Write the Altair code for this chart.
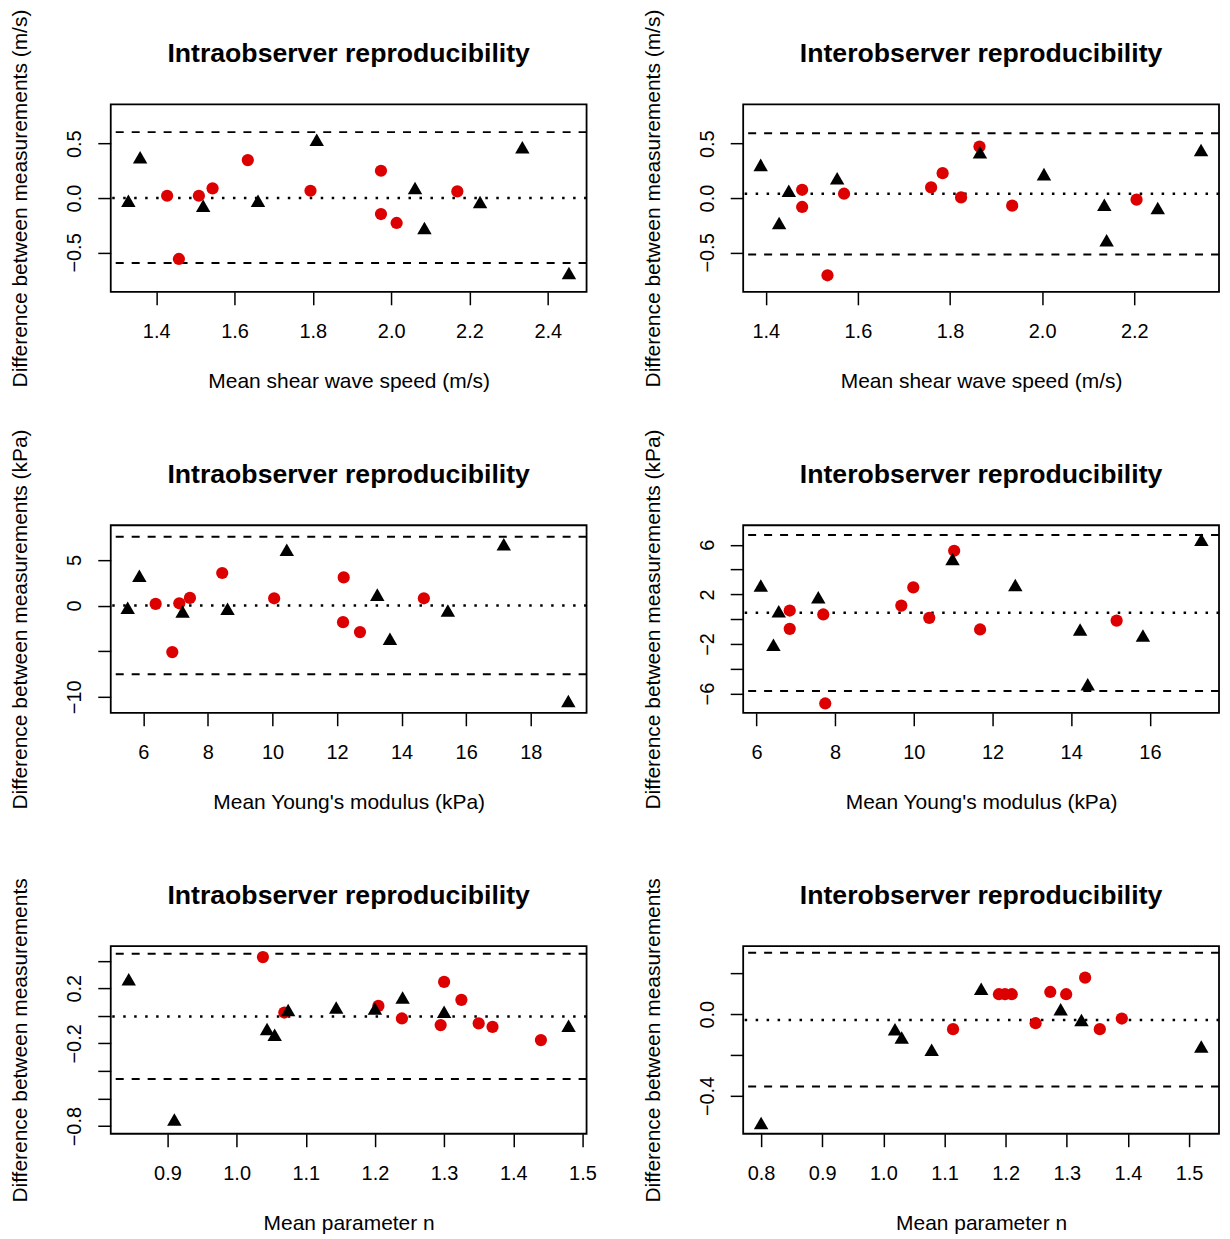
import altair as alt
import pandas as pd

FONT = "Liberation Sans"
RED = "#DD0000"

# ---------- Panel A: Intraobserver, shear wave speed ----------
a_tri_x = [1.329, 1.359, 1.520, 1.660, 1.810, 2.061, 2.085, 2.227, 2.335, 2.454]
a_tri_y = [-0.024, 0.376, -0.070, -0.024, 0.535, 0.092, -0.275, -0.037, 0.468, -0.688]
a_red_x = [1.428, 1.458, 1.509, 1.544, 1.634, 1.794, 1.974, 1.974, 2.014, 2.169]
a_red_y = [0.021, -0.560, 0.021, 0.089, 0.349, 0.067, 0.251, -0.147, -0.229, 0.061]
a_limits = [0.606, 0.0, -0.596]
a_xticks = [1.4, 1.6, 1.8, 2.0, 2.2, 2.4]
a_yticks = [-0.5, 0.0, 0.5]
a_ylabels = [-0.5, 0.0, 0.5]

# ---------- Panel B: Interobserver, shear wave speed ----------
b_tri_x = [1.389, 1.429, 1.450, 1.555, 1.865, 2.004, 2.135, 2.140, 2.251, 2.345]
b_tri_y = [0.305, -0.229, 0.067, 0.183, 0.421, 0.220, -0.061, -0.387, -0.091, 0.442]
b_red_x = [1.479, 1.479, 1.534, 1.570, 1.759, 1.784, 1.824, 1.864, 1.935, 2.205]
b_red_y = [0.076, -0.082, -0.710, 0.040, 0.098, 0.229, 0.006, 0.473, -0.070, -0.015]
b_limits = [0.595, 0.040, -0.518]
b_xticks = [1.4, 1.6, 1.8, 2.0, 2.2]
b_yticks = [-0.5, 0.0, 0.5]
b_ylabels = [-0.5, 0.0, 0.5]

# ---------- Panel C: Intraobserver, Young's modulus ----------
c_tri_x = [5.515, 5.876, 7.216, 8.608, 10.443, 13.247, 13.639, 15.433, 17.165, 19.165]
c_tri_y = [-0.25, 3.28, -0.66, -0.36, 6.12, 1.20, -3.64, -0.55, 6.73, -10.48]
c_red_x = [6.381, 6.897, 7.113, 7.443, 8.443, 10.052, 12.206, 12.186, 12.711, 14.690]
c_red_y = [0.18, -5.10, 0.25, 0.84, 3.57, 0.80, 3.09, -1.82, -2.91, 0.80]
c_limits = [7.54, 0.0, -7.54]
c_xticks = [6, 8, 10, 12, 14, 16, 18]
c_yticks = [-10, -5, 0, 5]
c_ylabels = [-10, 0, 5]

# ---------- Panel D: Interobserver, Young's modulus ----------
d_tri_x = [6.110, 6.431, 6.566, 7.571, 10.983, 12.579, 14.226, 14.420, 15.823, 17.309]
d_tri_y = [2.71, -2.06, 0.64, 1.77, 4.85, 2.76, -0.83, -5.25, -1.31, 6.40]
d_red_x = [6.845, 6.845, 7.698, 7.748, 9.682, 9.986, 10.392, 11.025, 11.684, 15.155]
d_red_y = [0.70, -0.78, 0.38, -6.80, 1.10, 2.57, 0.11, 5.52, -0.83, -0.11]
d_limits = [6.80, 0.51, -5.79]
d_xticks = [6, 8, 10, 12, 14, 16]
d_yticks = [-6, -4, -2, 0, 2, 4, 6]
d_ylabels = [-6, -2, 2, 6]

# ---------- Panel E: Intraobserver, parameter n ----------
e_tri_x = [0.844, 0.910, 1.044, 1.055, 1.0745, 1.144, 1.200, 1.240, 1.300, 1.480]
e_tri_y = [0.265, -0.752, -0.096, -0.137, 0.043, 0.060, 0.053, 0.133, 0.029, -0.072]
e_red_x = [1.038, 1.069, 1.205, 1.239, 1.300, 1.295, 1.325, 1.350, 1.370, 1.440]
e_red_y = [0.426, 0.024, 0.072, -0.019, 0.246, -0.067, 0.116, -0.055, -0.080, -0.176]
e_limits = [0.450, -0.005, -0.458]
e_xticks = [0.9, 1.0, 1.1, 1.2, 1.3, 1.4, 1.5]
e_yticks = [-0.8, -0.6, -0.4, -0.2, 0.0, 0.2, 0.4]
e_ylabels = [-0.8, -0.2, 0.2]

# ---------- Panel F: Interobserver, parameter n ----------
f_tri_x = [0.800, 1.019, 1.030, 1.079, 1.160, 1.290, 1.324, 1.520]
f_tri_y = [-0.532, -0.073, -0.114, -0.174, 0.125, 0.024, -0.028, -0.158]
f_red_x = [1.114, 1.189, 1.199, 1.210, 1.249, 1.273, 1.299, 1.330, 1.354, 1.390]
f_red_y = [-0.073, 0.098, 0.098, 0.098, -0.044, 0.109, 0.098, 0.179, -0.073, -0.021]
f_limits = [0.301, -0.028, -0.354]
f_xticks = [0.8, 0.9, 1.0, 1.1, 1.2, 1.3, 1.4, 1.5]
f_yticks = [-0.4, -0.2, 0.0, 0.2]
f_ylabels = [-0.4, 0.0]

W, H = 477, 188


def label_expr(shown, fmt):
    arr = ",".join(repr(float(v)) for v in shown)
    return f"indexof([{arr}], datum.value) >= 0 ? format(datum.value, '{fmt}') : ''"


def panel(title, tri_x, tri_y, red_x, red_y, limits, xdom, ydom,
          xticks, yticks, ylabels, xfmt, yfmt, xtitle, ytitle):
    tri = pd.DataFrame({"x": tri_x, "y": tri_y})
    red = pd.DataFrame({"x": red_x, "y": red_y})
    dash = pd.DataFrame({"y": [limits[0], limits[2]]})
    dot = pd.DataFrame({"y": [limits[1]]})
    ttl = pd.DataFrame({"t": [title]})
    xs = alt.Scale(domain=xdom, nice=False, zero=False)
    ys = alt.Scale(domain=ydom, nice=False, zero=False)
    xaxis = alt.Axis(values=xticks, format=xfmt, title=xtitle,
                     titleX=W / 2, titleY=90, titleAlign="center",
                     titleBaseline="middle", labelPadding=17)
    yaxis = alt.Axis(values=yticks, labelExpr=label_expr(ylabels, yfmt),
                     title=ytitle, labelAngle=270, labelAlign="center",
                     labelBaseline="bottom", labelPadding=13,
                     titleX=-90, titleY=H / 2, titleAngle=270,
                     titleAlign="center", titleBaseline="middle")
    X = alt.X("x:Q", scale=xs, axis=xaxis)
    Y = alt.Y("y:Q", scale=ys, axis=yaxis)
    l_dash = alt.Chart(dash).mark_rule(strokeDash=[8, 8], strokeWidth=2, color="black").encode(y=Y)
    l_dot = alt.Chart(dot).mark_rule(strokeDash=[2.5, 8.5], strokeWidth=2.5, color="black").encode(y=Y)
    p_red = alt.Chart(red).mark_point(shape="circle", filled=True, size=150,
                                      color=RED, opacity=1).encode(x=X, y=Y)
    p_tri = alt.Chart(tri).mark_point(shape="triangle-up", filled=True, size=210,
                                      color="black", opacity=1).encode(x=X, y=Y)
    t_mark = alt.Chart(ttl).mark_text(font=FONT, fontSize=26.7, fontWeight="bold",
                                      color="black", align="center",
                                      baseline="middle").encode(
        text="t:N", x=alt.value(W / 2), y=alt.value(-50))
    return alt.layer(l_dash, l_dot, p_red, p_tri, t_mark).properties(width=W, height=H)


T_INTRA = "Intraobserver reproducibility"
T_INTER = "Interobserver reproducibility"

pa = panel(T_INTRA, a_tri_x, a_tri_y, a_red_x, a_red_y, a_limits,
           [1.284, 2.499], [-0.862, 0.862], a_xticks, a_yticks, a_ylabels,
           ".1f", ".1f", "Mean shear wave speed (m/s)",
           "Difference between measurements (m/s)")
pb = panel(T_INTER, b_tri_x, b_tri_y, b_red_x, b_red_y, b_limits,
           [1.351, 2.384], [-0.862, 0.862], b_xticks, b_yticks, b_ylabels,
           ".1f", ".1f", "Mean shear wave speed (m/s)",
           "Difference between measurements (m/s)")
pc = panel(T_INTRA, c_tri_x, c_tri_y, c_red_x, c_red_y, c_limits,
           [4.99, 19.73], [-11.76, 8.81], c_xticks, c_yticks, c_ylabels,
           "d", "d", "Mean Young's modulus (kPa)",
           "Difference between measurements (kPa)")
pd_ = panel(T_INTER, d_tri_x, d_tri_y, d_red_x, d_red_y, d_limits,
            [5.662, 17.757], [-7.55, 7.58], d_xticks, d_yticks, d_ylabels,
            "d", "d", "Mean Young's modulus (kPa)",
            "Difference between measurements (kPa)")
pe = panel(T_INTRA, e_tri_x, e_tri_y, e_red_x, e_red_y, e_limits,
           [0.818, 1.506], [-0.855, 0.505], e_xticks, e_yticks, e_ylabels,
           ".1f", ".1f", "Mean parameter n",
           "Difference between measurements")
pf = panel(T_INTER, f_tri_x, f_tri_y, f_red_x, f_red_y, f_limits,
           [0.7707, 1.549], [-0.585, 0.333], f_xticks, f_yticks, f_ylabels,
           ".1f", ".1f", "Mean parameter n",
           "Difference between measurements")

chart = alt.concat(pa, pb, pc, pd_, pe, pf, columns=2,
                   spacing={"row": 234, "column": 157}, bounds="flush").properties(
    padding={"left": 1, "top": -2, "right": 0, "bottom": 0}
).configure_view(
    stroke="black", strokeWidth=1.8
).configure_axis(
    labelFont=FONT, titleFont=FONT, labelFontSize=20, titleFontSize=21,
    titleFontWeight="normal", labelColor="black", titleColor="black",
    tickColor="black", tickWidth=1.5, tickSize=13, domain=False, grid=False
)

chart.save("out.html", embed_options={"renderer": "svg", "actions": False})
